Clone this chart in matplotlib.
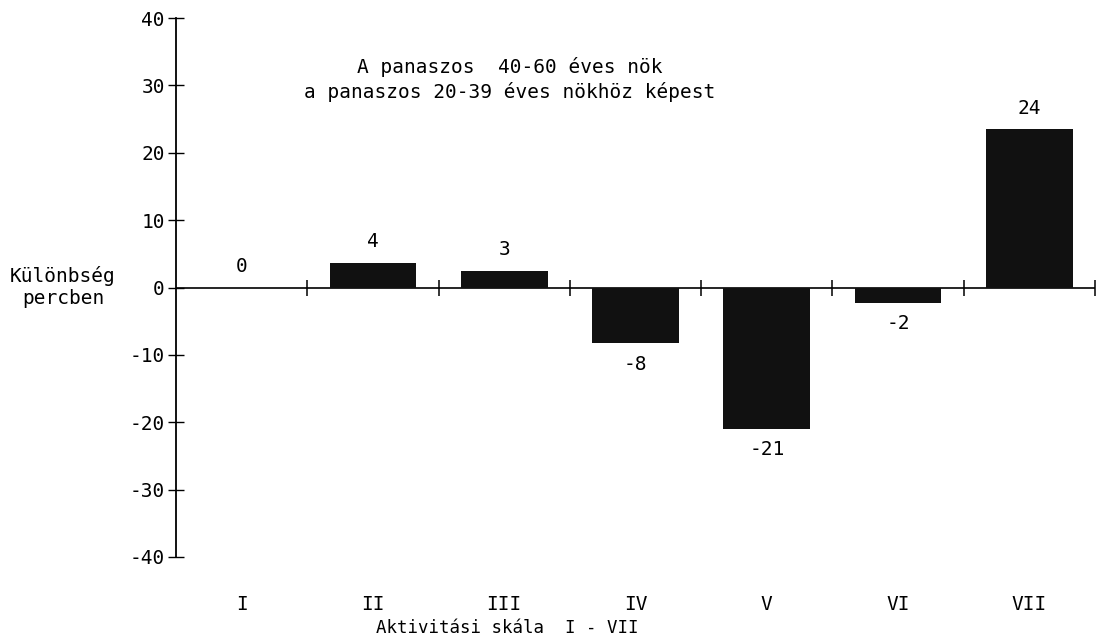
import matplotlib
matplotlib.use("Agg")
import matplotlib.pyplot as plt

plt.rcParams["font.family"] = ["DejaVu Sans Mono"]

categories = ["I", "II", "III", "IV", "V", "VI", "VII"]
values = [0, 3.7, 2.5, -8.3, -21.0, -2.3, 23.5]
value_labels = ["0", "4", "3", "-8", "-21", "-2", "24"]
y_ticks = [40, 30, 20, 10, 0, -10, -20, -30, -40]

fig = plt.figure(figsize=(11.06, 6.36), dpi=100)
ax = fig.add_axes([176 / 1106, 1 - 557 / 636, 919 / 1106, 539 / 636])

pos = [i + 0.5 for i in range(len(categories))]
ax.bar(pos, values, width=0.66, color="#111111", zorder=3)

# zero line with category separators
ax.axhline(0, color="black", lw=1.2, zorder=2)
bounds = list(range(1, len(categories) + 1))
ax.plot(bounds, [0] * len(bounds), ls="none", marker="|", ms=11, mew=1.1,
        color="black", zorder=2)

for x, v, lab in zip(pos, values, value_labels):
    off = 15 if v >= 0 else -15
    ax.annotate(lab, (x, v), xytext=(0, off), textcoords="offset points",
                ha="center", va="center", fontsize=14)

ax.set_xlim(0, len(categories))
ax.set_ylim(-40, 40)
ax.set_yticks(y_ticks)
ax.set_yticklabels([str(t) for t in y_ticks])
ax.tick_params(axis="y", direction="inout", length=12, width=1, labelsize=14, pad=2)
ax.set_xticks(pos)
ax.set_xticklabels(categories)
ax.tick_params(axis="x", length=0, labelsize=14, pad=27)

for s in ["top", "right", "bottom"]:
    ax.spines[s].set_visible(False)
ax.spines["left"].set_linewidth(1.3)

ax.set_xlabel("Aktivitási skála  I - VII", fontsize=12.5, va="center")
ax.xaxis.set_label_coords(0.36, -0.131)
ax.set_ylabel("Különbség\npercben", fontsize=14, rotation=0, ha="center", va="center")
ax.yaxis.set_label_coords(-0.123, 0.5)

ax.text(0.363, 0.886, "A panaszos  40-60 éves nök\na panaszos 20-39 éves nökhöz képest",
        transform=ax.transAxes, ha="center", va="center", fontsize=14, linespacing=1.3)

fig.savefig("out.png", dpi=100)
